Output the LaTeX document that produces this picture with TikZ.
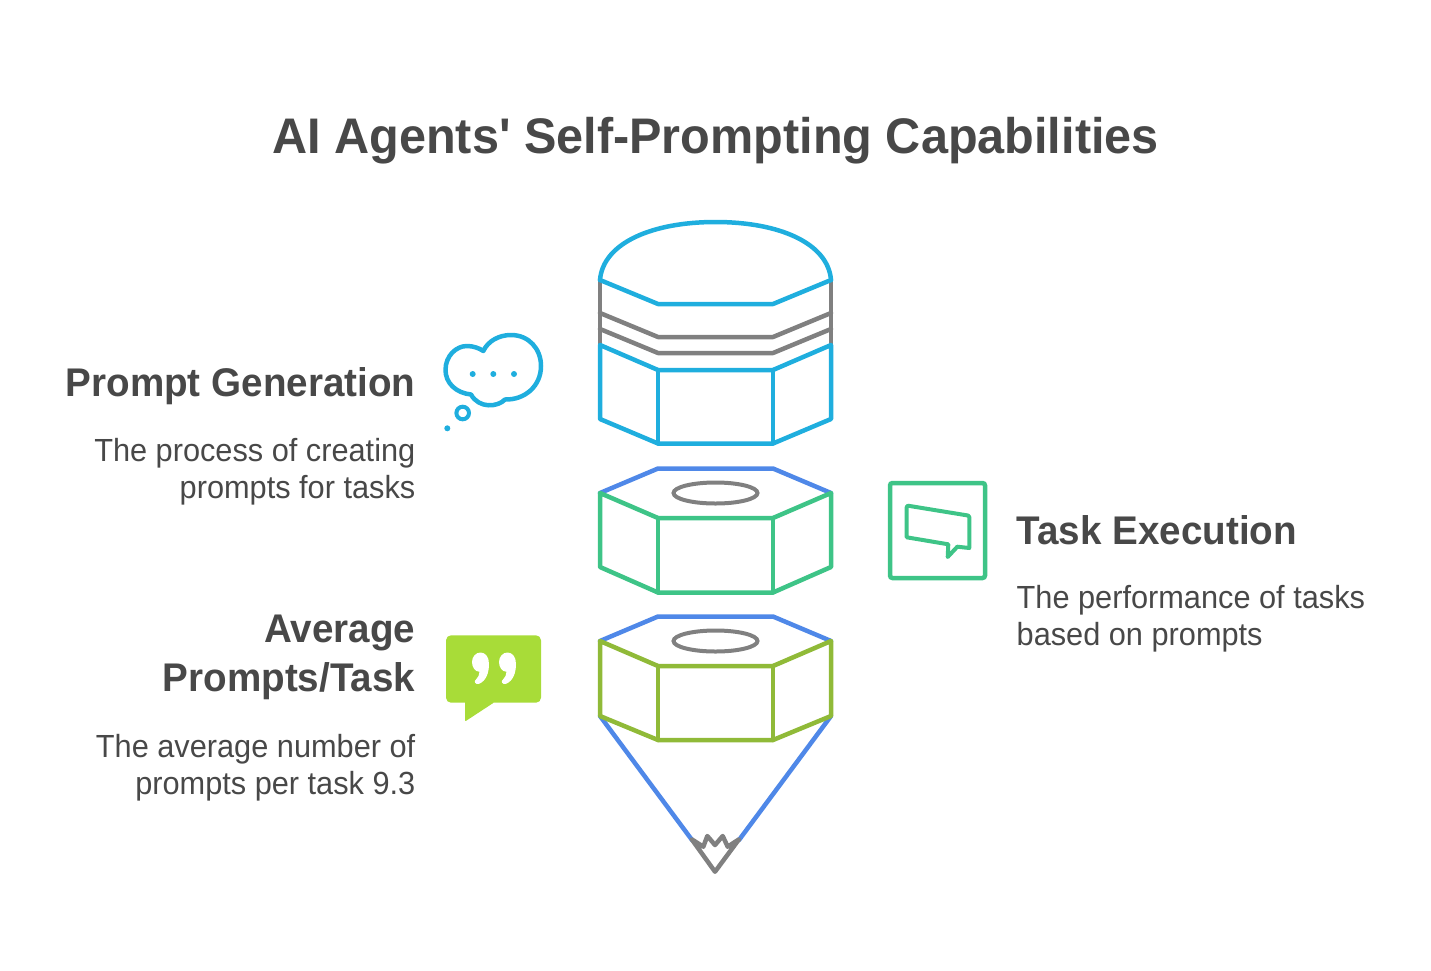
\documentclass[tikz,border=0pt]{standalone}
\usepackage{fontspec}
\newfontfamily\titlef[FakeStretch=0.972]{Liberation Sans}
\newfontfamily\headf[FakeStretch=0.965]{Liberation Sans}
\newfontfamily\bodyf[FakeStretch=0.96]{Liberation Sans}
\definecolor{txt}{HTML}{484848}
\definecolor{cyanb}{HTML}{1FAEDE}
\definecolor{grayl}{HTML}{808080}
\definecolor{blueb}{HTML}{4F88E8}
\definecolor{greenb}{HTML}{3EC487}
\definecolor{oliveb}{HTML}{90BA38}
\definecolor{limeb}{HTML}{A8DC38}
\tikzset{
  ln/.style={line width=4.5pt,line join=round,line cap=round},
  titletext/.style={inner sep=0,text=txt,font=\titlef\fontsize{50}{58}\selectfont\bfseries},
  headtext/.style={inner sep=0,text=txt,font=\headf\fontsize{40}{49}\selectfont\bfseries},
  bodytext/.style={inner sep=0,text=txt,font=\bodyf\fontsize{32}{37}\selectfont},
}
\begin{document}
\begin{tikzpicture}[x=1pt,y=-1pt]
\useasboundingbox (0,0) rectangle (1431,970);
% top block
\draw[ln,grayl] (600,280) -- (600,345) (831,280) -- (831,345);
\draw[ln,grayl] (600,313) -- (658,337) -- (773,337) -- (831,313);
\draw[ln,grayl] (600,329) -- (658,353) -- (773,353) -- (831,329);
\draw[ln,cyanb] (600,280) .. controls (603,243) and (652,222) .. (715.5,222) .. controls (779,222) and (828,243) .. (831,280);
\draw[ln,cyanb] (600,280) -- (658,304) -- (773,304) -- (831,280);
\draw[ln,cyanb] (600,345) -- (658,370) -- (773,370) -- (831,345) -- (831,419) -- (773,443.5) -- (658,443.5) -- (600,419) -- cycle;
\draw[ln,cyanb] (658,370) -- (658,443.5) (773,370) -- (773,443.5);
% middle block
\draw[ln,blueb] (600,493) -- (658,468.5) -- (773,468.5) -- (831,493);
\draw[ln,greenb] (600,493) -- (658,518) -- (773,518) -- (831,493) -- (831,567) -- (773,592.5) -- (658,592.5) -- (600,567) -- cycle;
\draw[ln,greenb] (658,518) -- (658,592.5) (773,518) -- (773,592.5);
\draw[grayl,line width=4pt] (715.5,493) ellipse [x radius=42,y radius=10.5];
% lower block
\draw[ln,blueb] (600,641) -- (658,616.5) -- (773,616.5) -- (831,641);
\draw[ln,blueb] (600,716) -- (692,840) (831,716) -- (739,840);
\draw[ln,oliveb] (600,641) -- (658,666) -- (773,666) -- (831,641) -- (831,716) -- (773,740) -- (658,740) -- (600,716) -- cycle;
\draw[ln,oliveb] (658,666) -- (658,740) (773,666) -- (773,740);
\draw[grayl,line width=4pt] (715.5,641) ellipse [x radius=42,y radius=10.5];
% tip
\draw[ln,grayl] (691.7,839.3) -- (703.3,846.7) -- (707.3,836) -- (715,845) -- (722.7,836) -- (727.7,846.7) -- (739,839.3) -- (715,871.7) -- cycle;
% thought bubble
\draw[ln,cyanb] (483.3,351) .. controls (488,341) and (499,335) .. (511,335)
  .. controls (529,335) and (541,349) .. (541,366)
  .. controls (541,386) and (525,400) .. (505,399.5)
  .. controls (498,407) and (479,409) .. (471,394.5)
  .. controls (456,393) and (445.5,383) .. (445.5,370)
  .. controls (445.5,356) and (456,346) .. (467,346)
  .. controls (473,346) and (479,348) .. (483.3,351) -- cycle;
\fill[cyanb] (472.7,374) circle (3) (493.3,374) circle (3) (514,374) circle (3) (447.3,428.3) circle (3);
\draw[cyanb,line width=4pt] (462.7,413) circle (6.3);
% task icon
\draw[greenb,line width=4.5pt,rounded corners=2.5pt] (890,483) rectangle (985,578);
\draw[greenb,line width=4pt,line join=round,line cap=round] (908,505.7) -- (968,515.5) -- (969.3,517) -- (969.3,548) -- (957.3,546.7) -- (947.7,557) -- (948.3,544.3) -- (906.7,537.3) -- (906.7,507) -- cycle;
% quote icon
\fill[limeb,rounded corners=5pt] (446,635.3) rectangle (541,702.7);
\fill[limeb,rounded corners=1pt] (465,700) -- (465,721.5) -- (494,702.5) -- (494,700) -- cycle;
\fill[white] (472,662) .. controls (472,656.5) and (476,652.5) .. (480.5,652.5)
  .. controls (485.5,652.5) and (489,657) .. (489,664)
  .. controls (489,673) and (486,681) .. (479,683.8)
  .. controls (475,685) and (473.5,681) .. (476,679.5)
  .. controls (478,677.5) and (479.5,675) .. (479.5,671.8)
  .. controls (475,671.5) and (472,667.5) .. (472,662) -- cycle;
\fill[white] (499,662) .. controls (499,656.5) and (503,652.5) .. (507.5,652.5)
  .. controls (512.5,652.5) and (516,657) .. (516,664)
  .. controls (516,673) and (513,681) .. (506,683.8)
  .. controls (502,685) and (500.5,681) .. (503,679.5)
  .. controls (505,677.5) and (506.5,675) .. (506.5,671.8)
  .. controls (502,671.5) and (499,667.5) .. (499,662) -- cycle;
% text
\node[titletext,anchor=base] (title) at (715.5,153) {AI Agents' Self-Prompting Capabilities};
\node[headtext,anchor=base east] (h1) at (415.5,396) {Prompt Generation};
\node[bodytext,anchor=north east,align=right] (b1) at (415.5,438) {The process of creating\\prompts for tasks};
\node[headtext,anchor=north east,align=right] (h2) at (415.5,615) {Average\\Prompts/Task};
\node[bodytext,anchor=north east,align=right] (b2) at (415.5,734) {The average number of\\prompts per task 9.3};
\node[headtext,anchor=base west] (h3) at (1016.5,544) {Task Execution};
\node[bodytext,anchor=north west,align=left] (b3) at (1016.5,585.5) {The performance of tasks\\based on prompts};
\end{tikzpicture}
\end{document}
